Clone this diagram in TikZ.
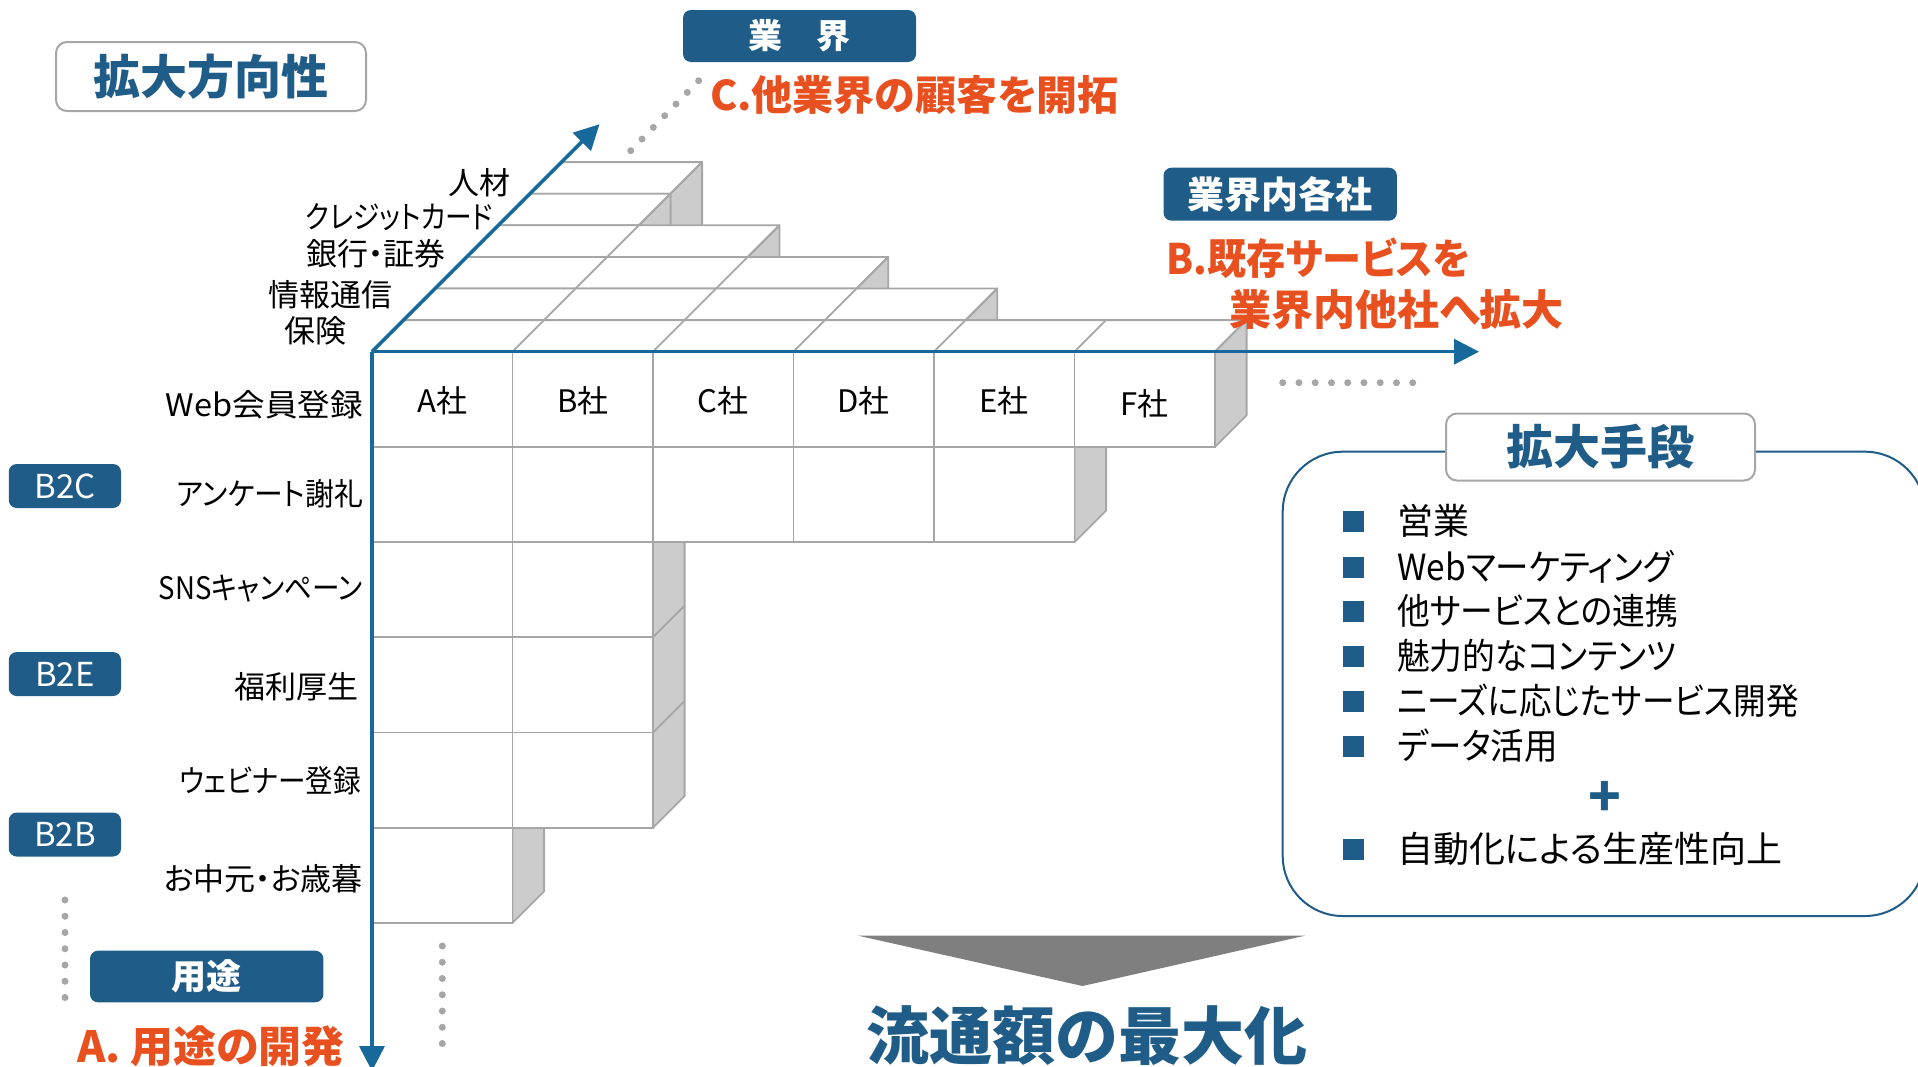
\documentclass[tikz,border=0pt]{standalone}
\usepackage{fontspec}
\setmainfont{Noto Sans CJK JP}[RawFeature=+palt]
\usetikzlibrary{arrows.meta}
\definecolor{dblue}{HTML}{1F5C87}
\definecolor{ablue}{HTML}{16699A}
\definecolor{orng}{HTML}{E9501F}
\definecolor{gline}{HTML}{A6A6A6}
\definecolor{gface}{HTML}{CCCCCC}
\definecolor{tri}{HTML}{7F7F7F}
\newcommand\fsz[1]{\fontsize{#1}{#1}\selectfont}
\newcommand\nar[1]{\addfontfeatures{FakeStretch=#1}}
\begin{document}
\begin{tikzpicture}[x=1pt,y=-1pt,
  cellpath/.style={draw=gline, line width=1.8pt, fill=white, line join=round},
  face/.style={draw=gline, line width=1.8pt, fill=gface, line join=round},
  cellbox/.style={draw=gline, line width=1.8pt, fill=white, minimum width=140.5pt, minimum height=95.2pt, inner sep=0pt},
  axis/.style={draw=ablue, line width=3.5pt, -{Triangle[length=25pt,width=25pt]}},
  dots/.style={draw=gline, line width=7pt, line cap=round, dash pattern=on 0pt off 16.25pt},
  lbl/.style={font=\fsz{31}, text=black, inner sep=0pt},
  tag/.style={fill=dblue, rounded corners=8pt, text=white, inner sep=0pt},
  titlebox/.style={draw=gline, line width=2pt, fill=white, rounded corners=11pt, text=dblue, font=\fsz{47}\bfseries, inner sep=0pt},
  otext/.style={text=orng, font=\fsz{41}\bfseries, inner sep=0pt, anchor=west},
  bsq/.style={fill=dblue, minimum size=21pt, inner sep=0pt},
  btxt/.style={font=\fsz{36}, text=black, inner sep=0pt, anchor=west}
]
\useasboundingbox (0,0) rectangle (1918,1066);
\clip (0,0) rectangle (1918,1066);
\def\W{140.5}\def\H{95.2}\def\D{31.6}\def\OX{372}\def\OY{351.7}
% ---- top layers (back to front)
\foreach \k/\n in {5/1,4/1,3/2,2/3,1/4,0/6}{
  \pgfmathsetmacro\fx{\OX+\k*\D}
  \pgfmathsetmacro\fy{\OY-\k*\D}
  \pgfmathsetmacro\rx{\fx+\n*\W}
  \ifnum\k>0
    \draw[face] (\rx,\fy) -- ++(\D,-\D) -- ++(0,\H) -- ++(-\D,\D) -- cycle;
  \fi
  \draw[cellpath] (\fx,\fy) -- (\rx,\fy) -- ++(\D,-\D) -- (\fx+\D,\fy-\D) -- cycle;
  \foreach \j in {1,...,\n}{
    \draw[gline, line width=1.8pt] (\fx+\j*\W,\fy) -- ++(\D,-\D);
  }
}
% ---- right faces of the front layer
\foreach \r/\n in {1/6,2/5,3/2,4/2,5/2,6/1}{
  \pgfmathsetmacro\ry{\OY+(\r-1)*\H}
  \pgfmathsetmacro\rx{\OX+\n*\W}
  \draw[face] (\rx,\ry) -- ++(\D,-\D) -- ++(0,\H) -- ++(-\D,\D) -- cycle;
}
% ---- front cells
\foreach \r/\n in {1/6,2/5,3/2,4/2,5/2,6/1}{
  \foreach \c in {1,...,\n}{
    \node[cellbox] (cell-\r-\c) at ({\OX+(\c-0.5)*\W},{\OY+(\r-0.5)*\H}) {};
  }
}
% company labels
\node[lbl] (coA) at ([yshift=-1pt]cell-1-1) {A社};
\node[lbl] (coB) at ([yshift=-1pt]cell-1-2) {B社};
\node[lbl] (coC) at ([yshift=-1pt]cell-1-3) {C社};
\node[lbl] (coD) at ([yshift=-1pt]cell-1-4) {D社};
\node[lbl] (coE) at ([yshift=-1pt]cell-1-5) {E社};
\node[lbl] (coF) at ([yshift=-4pt]cell-1-6) {F社};
% ---- axes
\coordinate (O) at (\OX,\OY);
\coordinate (xE) at (1479,\OY);
\coordinate (yE) at (\OX,1071);
\coordinate (zE) at (599.5,124.2);
\draw[axis] (O) -- (xE);
\draw[axis] (O) -- (yE);
\draw[axis] (O) -- (zE);
% ---- dotted continuations
\coordinate (dzA) at (630.7,150.7); \coordinate (dzB) at (700.5,78.8);
\coordinate (dxA) at (1282.7,382.7); \coordinate (dxB) at (1415.5,382.7);
\coordinate (dyA) at (442.3,946); \coordinate (dyB) at (442.3,1044.5);
\coordinate (dlA) at (65,900); \coordinate (dlB) at (65,998.5);
\draw[dots] (dzA) -- (dzB);
\draw[dots] (dxA) -- (dxB);
\draw[dots] (dyA) -- (dyB);
\draw[dots] (dlA) -- (dlB);
% ---- industry labels
\node[lbl, anchor=east] (ind5) at (511,183) {人材};
\node[lbl, anchor=east, font=\fsz{31}\nar{0.86}] (ind4) at (493,217) {クレジットカード};
\node[lbl, anchor=east] (ind3) at (446,254) {銀行・証券};
\node[lbl, anchor=east] (ind2) at (393,295) {情報通信};
\node[lbl, anchor=east] (ind1) at (347,331) {保険};
% ---- use labels
\node[lbl, anchor=east, font=\fsz{31}\nar{1.05}] (use1) at (363,405) {Web会員登録};
\node[lbl, anchor=east, font=\fsz{31}\nar{0.93}] (use2) at (363,494) {アンケート謝礼};
\node[lbl, anchor=east, font=\fsz{31}\nar{0.89}] (use3) at (363,589) {SNSキャンペーン};
\node[lbl, anchor=east] (use4) at (359,687) {福利厚生};
\node[lbl, anchor=east, font=\fsz{31}\nar{0.89}] (use5) at (361,781) {ウェビナー登録};
\node[lbl, anchor=east] (use6) at (363,879) {お中元・お歳暮};
% ---- segment tags
\node[tag, minimum width=112.3pt, minimum height=44pt, font=\fsz{33}] (b2c) at (64.9,486) {B2C};
\node[tag, minimum width=112.3pt, minimum height=44pt, font=\fsz{33}] (b2e) at (64.9,674) {B2E};
\node[tag, minimum width=112.3pt, minimum height=44pt, font=\fsz{33}] (b2b) at (64.9,834.5) {B2B};
% ---- headings
\node[titlebox, minimum width=310pt, minimum height=69pt] (dir) at (211,76.5) {拡大方向性};
\node[tag, minimum width=233pt, minimum height=52pt, font=\fsz{34}\bfseries] (gyokai) at (799.5,36) {業　界};
\node[tag, minimum width=233.4pt, minimum height=53pt, font=\fsz{37}\bfseries] (kakusha) at (1280.2,194.2) {業界内各社};
\node[tag, minimum width=233.3pt, minimum height=51.6pt, font=\fsz{35}\bfseries] (yoto) at (206.7,976.5) {用途};
\node[otext] (tC) at (710,95) {C.他業界の顧客を開拓};
\node[otext, font=\fsz{42}\bfseries\nar{0.93}] (tB1) at (1166.5,258) {B.既存サービスを};
\node[otext, font=\fsz{42}\bfseries] (tB2) at (1228.8,310) {業界内他社へ拡大};
\node[otext, font=\fsz{43}\bfseries] (tA) at (77,1046) {A. 用途の開発};
% ---- means panel
\node[draw=dblue, line width=2pt, rounded corners=60pt, minimum width=642.3pt, minimum height=464.3pt, inner sep=0pt] (panel) at (1603.85,683.85) {};
\node[titlebox, minimum width=309pt, minimum height=67pt] (means) at (1600.5,447) {拡大手段};
\foreach \i/\yy/\t/\s in {1/521/営業/1,2/567/Webマーケティング/0.93,3/611/他サービスとの連携/0.91,4/656/魅力的なコンテンツ/0.91,5/701/ニーズに応じたサービス開発/0.906,6/746/データ活用/0.93,7/849/自動化による生産性向上/1}{
  \node[bsq] (sq\i) at (1353.5,\yy) {};
  \node[btxt, font=\fsz{36}\nar{\s}] (it\i) at (1397,\yy) {\t};
}
\node[text=dblue, font=\fsz{54}\bfseries, inner sep=0pt] (plus) at (1605,799) {+};
% ---- result
\fill[tri] (857.5,935.5) -- (1305.7,935.5) -- (1082.5,986) -- cycle;
\node[text=dblue, font=\fsz{63}\bfseries, inner sep=0pt] (result) at (1087,1036) {流通額の最大化};
\end{tikzpicture}
\end{document}
